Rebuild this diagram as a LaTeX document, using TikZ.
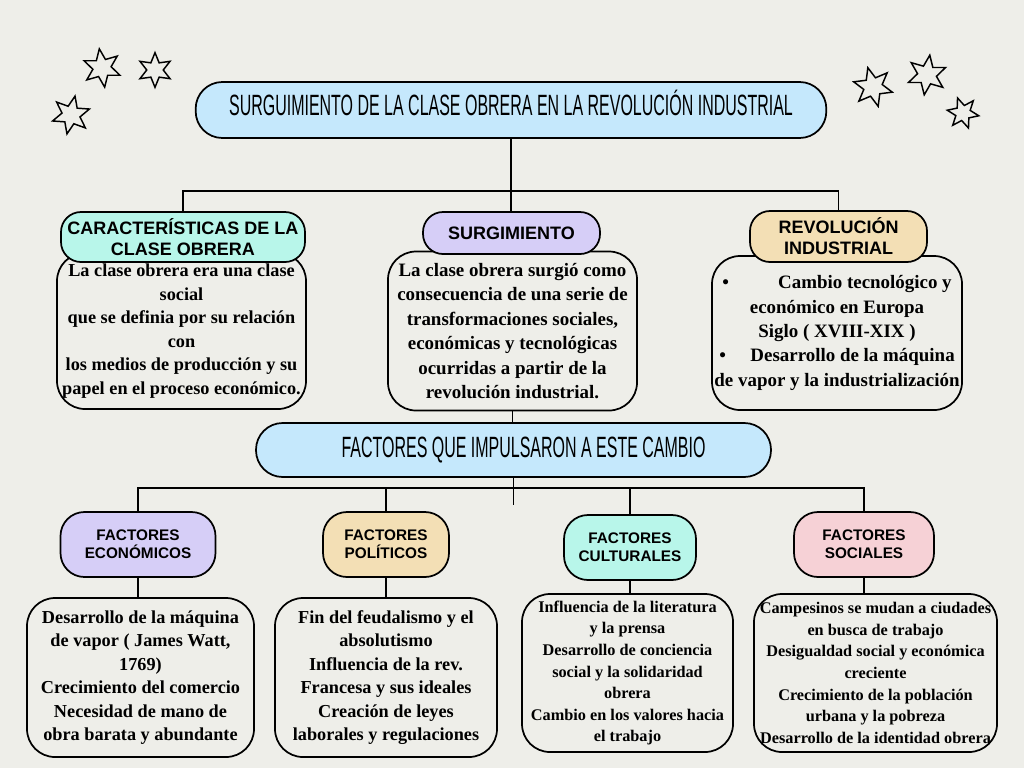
\documentclass[tikz,border=0pt]{standalone}
\usepackage{fontspec}
\setmainfont{Liberation Serif}
\newfontfamily\headfont{Liberation Sans}
\newfontfamily\titlefont[FakeStretch=0.545]{Liberation Sans}
\usetikzlibrary{shapes.geometric}

\definecolor{paper}{RGB}{238,238,233}
\definecolor{skyblue}{RGB}{197,232,252}
\definecolor{mint}{RGB}{184,246,234}
\definecolor{lilac}{RGB}{214,206,247}
\definecolor{sand}{RGB}{243,223,181}
\definecolor{rose}{RGB}{246,209,214}

\begin{document}
\begin{tikzpicture}[x=0.75pt, y=-0.75pt,
    banner/.style={rectangle, draw=black, line width=1.3pt, fill=skyblue, rounded corners=20pt, inner sep=0pt, font=\titlefont\fontsize{22}{26}\selectfont},
    tag/.style={rectangle, draw=black, line width=1.3pt, rounded corners=15pt, inner sep=0pt, align=center, font=\headfont\bfseries\fontsize{13.5}{15.8}\selectfont},
    smalltag/.style={tag, rounded corners=18pt, font=\headfont\bfseries\fontsize{11.5}{13.3}\selectfont},
    textbox/.style={rectangle, draw=black, line width=1.3pt, rounded corners=21pt, inner sep=0pt, align=center, font=\bfseries\fontsize{13.7}{17.6}\selectfont},
    widetext/.style={textbox, font=\bfseries\fontsize{14.2}{18.3}\selectfont},
    smalltext/.style={textbox, font=\bfseries\fontsize{12.2}{16.2}\selectfont},
    link/.style={line width=1.3pt},
    twinkle/.style={star, star points=6, star point ratio=2.1, draw=black, line width=1.1pt, inner sep=0pt},
]

\fill[paper] (0,0) rectangle (1024,768);
\useasboundingbox (0,0) rectangle (1024,768);

% stars
\foreach \i/\x/\y/\s/\r in {1/102/68/29/8, 2/155/70/26/0, 3/71/115/29/-12, 4/873/87/30/15, 5/927/75/30/-8, 6/963/113/24/20}
    \node[twinkle, minimum size=\s pt, rotate=\r] (star\i) at (\x,\y) {};

\node[banner, minimum width=473pt, minimum height=42pt, text height=16pt, text depth=8pt] (title) at (511,110) {SURGUIMIENTO DE LA CLASE OBRERA EN LA REVOLUCIÓN INDUSTRIAL};

% upper row
\node[textbox, minimum width=186.75pt, minimum height=117pt] (txtcarac) at (181.5,331) {La clase obrera era una clase\\ social\\ que se definia por su relación\\ con\\ los medios de producción y su\\ papel en el proceso económico.};
\node[widetext, minimum width=186.75pt, minimum height=119.25pt] (txtsurg) at (512.5,331) {La clase obrera surgió como\\ consecuencia de una serie de\\ transformaciones sociales,\\ económicas y tecnológicas\\ ocurridas a partir de la\\ revolución industrial.};
\node[widetext, minimum width=187.5pt, minimum height=115.5pt] (txtrev) at (837,333) {\textbullet\hspace{2.6em}Cambio tecnológico y\\ económico en Europa\\ Siglo ( XVIII-XIX )\\ \textbullet\hspace{1.3em}Desarrollo de la máquina\\ de vapor y la industrialización};

\node[tag, fill=mint, minimum width=183pt, minimum height=37.5pt] (carac) at (183,237) {CARACTERÍSTICAS DE LA\\ CLASE OBRERA};
\node[tag, fill=lilac, minimum width=132.75pt, minimum height=31.5pt] (surg) at (511.5,233) {SURGIMIENTO};
\node[tag, fill=sand, minimum width=132.75pt, minimum height=38.25pt] (rev) at (838.5,236.5) {REVOLUCIÓN\\ INDUSTRIAL};

\node[banner, minimum width=386.25pt, minimum height=40.5pt] (factores) at (513.5,450) {\hspace*{15pt}FACTORES QUE IMPULSARON A ESTE CAMBIO};

% lower row
\node[textbox, minimum width=170.25pt, minimum height=119.25pt] (txtecon) at (140.5,677.5) {Desarrollo de la máquina\\ de vapor ( James Watt,\\ 1769)\\ Crecimiento del comercio\\ Necesidad de mano de\\ obra barata y abundante};
\node[textbox, minimum width=166.5pt, minimum height=119.25pt] (txtpolit) at (386,677.5) {Fin del feudalismo y el\\ absolutismo\\ Influencia de la rev.\\ Francesa y sus ideales\\ Creación de leyes\\ laborales y regulaciones};
\node[smalltext, minimum width=158.25pt, minimum height=118.5pt] (txtcult) at (627.5,673) {Influencia de la literatura\\ y la prensa\\ Desarrollo de conciencia\\ social y la solidaridad\\ obrera\\ Cambio en los valores hacia\\ el trabajo};
\node[smalltext, minimum width=182.25pt, minimum height=118.5pt] (txtsoc) at (875.5,673) {Campesinos se mudan a ciudades\\ en busca de trabajo\\ Desigualdad social y económica\\ creciente\\ Crecimiento de la población\\ urbana y la pobreza\\ Desarrollo de la identidad obrera};

\node[smalltag, fill=lilac, minimum width=116.25pt, minimum height=48.75pt] (econ) at (138,544.5) {FACTORES\\ ECONÓMICOS};
\node[smalltag, fill=sand, minimum width=94.5pt, minimum height=48.75pt] (polit) at (386,544.5) {FACTORES\\ POLÍTICOS};
\node[smalltag, fill=mint, minimum width=99pt, minimum height=48.75pt] (cult) at (630,547.5) {FACTORES\\ CULTURALES};
\node[smalltag, fill=rose, minimum width=105pt, minimum height=48.75pt] (soc) at (864,544.5) {FACTORES\\ SOCIALES};

% connectors
\coordinate (tbus) at (511.5,191);
\coordinate (fbus) at (513.5,488);
\coordinate (fend) at (513.5,505);

\draw[link] (title.south) -- (title.south |- surg.north);
\draw[link] (carac.north) |- (tbus) -| (rev.north);
\draw[link] (txtsurg.south) -- (txtsurg.south |- factores.north);
\draw[link] (factores.south) -- (fend);
\draw[link] (econ.north) |- (fbus) -| (soc.north);
\draw[link] (polit.north) |- (fbus);
\draw[link] (cult.north) |- (fbus);
\draw[link] (econ.south) -- (econ.south |- txtecon.north);
\draw[link] (polit.south) -- (polit.south |- txtpolit.north);
\draw[link] (cult.south) -- (cult.south |- txtcult.north);
\draw[link] (soc.south) -- (soc.south |- txtsoc.north);

\end{tikzpicture}
\end{document}
